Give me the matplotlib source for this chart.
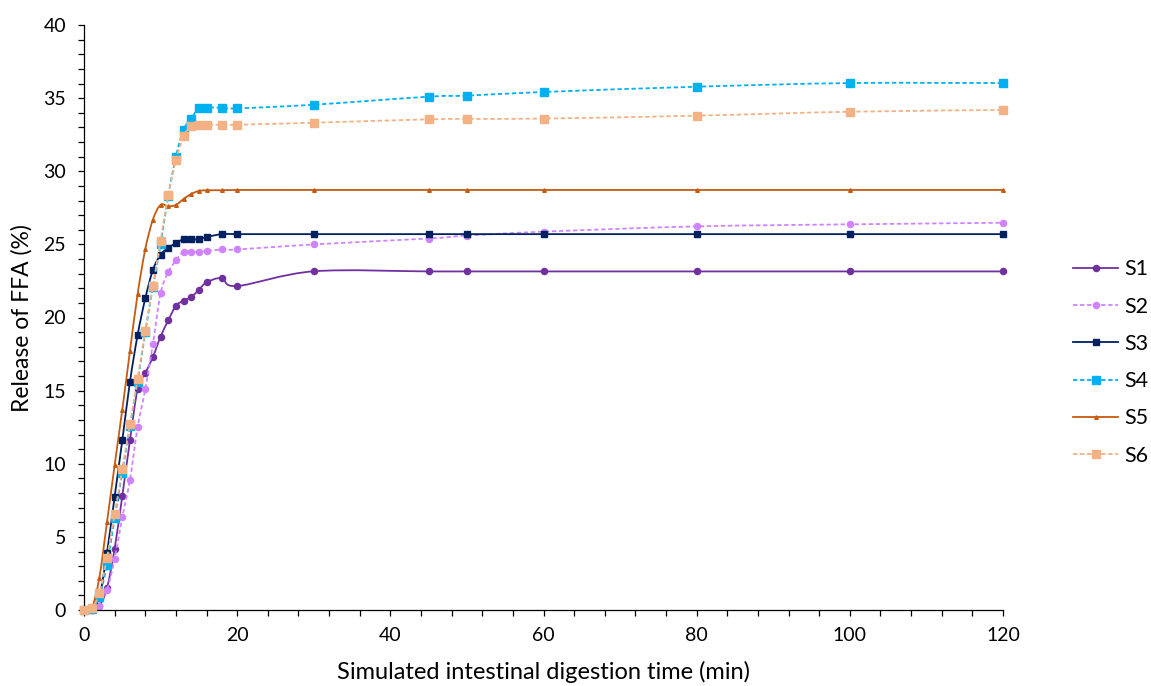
import numpy as np
import matplotlib
matplotlib.use("Agg")
import matplotlib.pyplot as plt
from matplotlib.path import Path
from matplotlib.patches import PathPatch
from matplotlib.lines import Line2D
from matplotlib.ticker import MultipleLocator

plt.rcParams['font.family'] = ['Lato', 'DejaVu Sans']

# ---- data ----
time_min = [0, 1, 2, 3, 4, 5, 6, 7, 8, 9, 10, 11, 12, 13, 14, 15, 16, 18, 20, 30, 45, 50, 60, 80, 100, 120]

S1 = [0, 0, 0.3, 1.5, 4.2, 7.8, 11.6, 15.1, 16.2, 17.3, 18.7, 19.8, 20.8, 21.15, 21.4, 21.9, 22.4, 22.7, 22.15,
      23.16, 23.15, 23.15, 23.15, 23.15, 23.15, 23.15]
S2 = [0, 0, 0.3, 1.35, 3.5, 6.35, 8.9, 12.5, 15.1, 18.2, 21.65, 23.1, 23.9, 24.5, 24.5, 24.5, 24.55, 24.65, 24.65,
      25.0, 25.4, 25.6, 25.87, 26.23, 26.37, 26.48]
S3 = [0, 0.1, 0.9, 3.9, 7.75, 11.6, 15.6, 18.8, 21.3, 23.25, 24.3, 24.75, 25.1, 25.35, 25.35, 25.35, 25.5, 25.7, 25.7,
      25.7, 25.7, 25.7, 25.7, 25.7, 25.7, 25.7]
S4 = [0, 0.1, 0.9, 3.1, 6.3, 9.4, 12.6, 15.6, 19.0, 22.1, 25.0, 28.3, 31.0, 32.85, 33.6, 34.35, 34.35, 34.35, 34.3,
      34.55, 35.1, 35.17, 35.42, 35.78, 36.03, 36.03]
S5 = [0, 0.1, 2.2, 6.0, 9.9, 13.7, 17.7, 21.6, 24.66, 26.7, 27.7, 27.6, 27.7, 28.1, 28.45, 28.65, 28.7, 28.7, 28.72,
      28.72, 28.72, 28.72, 28.72, 28.72, 28.72, 28.72]
S6 = [0, 0.11, 1.18, 3.58, 6.56, 9.62, 12.7, 15.8, 19.1, 22.15, 25.25, 28.35, 30.75, 32.4, 33.1, 33.18, 33.18, 33.18,
      33.18, 33.32, 33.55, 33.58, 33.6, 33.8, 34.07, 34.19]

series_names = ['S1', 'S2', 'S3', 'S4', 'S5', 'S6']
series_values = [S1, S2, S3, S4, S5, S6]

x_label = 'Simulated intestinal digestion time (min)'
y_label = 'Release of FFA (%)'

# ---- styles ----
dash = (0, (2.4, 1.5))
styles = [
    dict(color='#7030A0', ls='-', marker='o', ms=4.4),
    dict(color='#D183FF', ls=dash, marker='o', ms=4.4),
    dict(color='#002060', ls='-', marker='s', ms=4.8),
    dict(color='#00B0F0', ls=dash, marker='s', ms=5.2),
    dict(color='#C55A11', ls='-', marker='^', ms=2.6),
    dict(color='#F4B183', ls=dash, marker='s', ms=5.5),
]
LW = 1.3


def smooth_path(x, y):
    P = np.column_stack([x, y]).astype(float)
    n = len(P)
    verts = [P[0]]
    codes = [Path.MOVETO]
    for i in range(n - 1):
        p0 = P[i - 1] if i > 0 else P[i]
        p1 = P[i]
        p2 = P[i + 1]
        p3 = P[i + 2] if i + 2 < n else P[i + 1]
        c1 = p1 + (p2 - p0) / 6.0
        c2 = p2 - (p3 - p1) / 6.0
        verts += [c1, c2, p2]
        codes += [Path.CURVE4] * 3
    return Path(verts, codes)


W, H = 1151, 686
fig = plt.figure(figsize=(W / 100, H / 100), dpi=100)
ax = fig.add_axes([84 / W, 1 - 610 / H, (1003 - 84) / W, (610 - 25) / H])

handles = []
for k, (name, vals, st) in enumerate(zip(series_names, series_values, styles)):
    path = smooth_path(time_min, vals)
    patch = PathPatch(path, facecolor='none', edgecolor=st['color'], lw=LW, ls=st['ls'],
                      zorder=2 + k * 0.1, capstyle='butt')
    patch.set_clip_on(False)
    ax.add_patch(patch)
    ax.plot(time_min, vals, ls='none', marker=st['marker'], ms=st['ms'], color=st['color'],
            mec=st['color'], zorder=2.05 + k * 0.1, clip_on=False)
    handles.append(Line2D([], [], color=st['color'], lw=LW, ls=st['ls'], marker=st['marker'],
                          ms=st['ms'], mec=st['color']))

ax.set_xlim(0, 120)
ax.set_ylim(0, 40)
ax.xaxis.set_major_locator(MultipleLocator(20))
ax.xaxis.set_minor_locator(MultipleLocator(4))
ax.yaxis.set_major_locator(MultipleLocator(5))
ax.yaxis.set_minor_locator(MultipleLocator(1))

for s in ['top', 'right']:
    ax.spines[s].set_visible(False)
for s in ['left', 'bottom']:
    ax.spines[s].set_color('#000000')
    ax.spines[s].set_linewidth(0.9)

ax.tick_params(which='both', direction='out', length=4, width=0.9, color='#000000')
ax.tick_params(axis='both', which='major', labelsize=14, colors='#000000')
ax.tick_params(axis='y', which='major', pad=9)
ax.tick_params(axis='x', which='major', pad=8)

fig.text(22 / W, 1 - 318 / H, y_label, rotation=90, ha='center', va='center', fontsize=16.5)
fig.text((84 + 1003) / 2 / W, 1 - 672 / H, x_label, ha='center', va='center', fontsize=17)

fig.legend(handles, series_names, loc='center left', bbox_to_anchor=(1073 / W, 1 - 362.5 / H),
           frameon=False, fontsize=15.5, handlelength=2.1, handletextpad=0.3, labelspacing=0.8,
           borderpad=0, borderaxespad=0)

fig.savefig('out.png', dpi=100)
